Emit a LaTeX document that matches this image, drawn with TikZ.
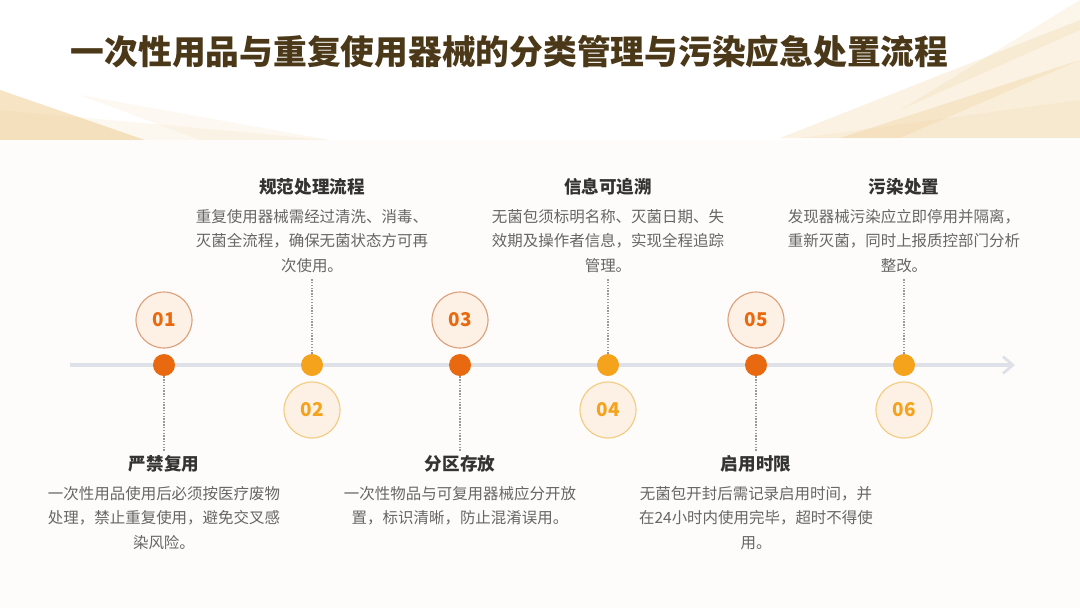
\documentclass[tikz,border=0pt]{standalone}
\usepackage{fontspec}
\newfontfamily\cjk{Noto Sans CJK SC}
\usetikzlibrary{arrows.meta}
\definecolor{deeporange}{HTML}{E8690F}
\definecolor{lightorange}{HTML}{F5A21C}
\definecolor{creamfill}{HTML}{FDF1E6}
\definecolor{oddrim}{HTML}{DDA07A}
\definecolor{evenrim}{HTML}{F2CC80}
\definecolor{titlebrown}{HTML}{4A3818}
\definecolor{headgray}{HTML}{333333}
\definecolor{bodygray}{HTML}{666666}
\definecolor{axisgray}{HTML}{DFE1E8}
\definecolor{gold}{HTML}{F0CF96}
\begin{document}
\begin{tikzpicture}[x=0.025cm, y=-0.025cm,
    dot/.style={circle, inner sep=0pt, minimum size=0.55cm},
    num/.style={circle, draw, line width=0.8pt, fill=creamfill, inner sep=0pt,
        minimum size=1.4cm, font=\cjk\bfseries\fontsize{13.5}{14}\selectfont},
    head/.style={font=\cjk\bfseries\fontsize{12.5}{14}\selectfont, text=headgray},
    body/.style={align=center, font=\cjk\fontsize{11}{17.7}\selectfont, text=bodygray},
    link/.style={densely dotted, line width=1pt, draw=gray!80}
]

    % background
    \fill[white!60!creamfill!30] (0,0) rectangle (1080,608);
    \fill[white] (0,0) rectangle (1080,140);
    \fill[gold, opacity=0.55] (0,90) -- (145,140) -- (0,140) -- cycle;
    \fill[gold, opacity=0.15] (0,110) -- (330,140) -- (0,140) -- cycle;
    \fill[gold, opacity=0.12] (80,95) -- (330,140) -- (200,140) -- cycle;
    \fill[gold, opacity=0.25] (780,138) -- (1080,20) -- (1080,60) -- (900,138) -- cycle;
    \fill[gold, opacity=0.35] (840,138) -- (1080,60) -- (1080,138) -- cycle;
    \fill[gold, opacity=0.2] (900,110) -- (1080,0) -- (1080,30) -- cycle;
    \fill[gold, opacity=0.15] (800,138) -- (1080,100) -- (1080,138) -- cycle;
    \fill[creamfill!20] (0,140) rectangle (1080,608);

    % title
    \node[anchor=west, text=titlebrown, font=\cjk\bfseries\fontsize{24}{28}\selectfont]
        (title) at (66,52) {一次性用品与重复使用器械的分类管理与污染应急处置流程};

    % timeline
    \coordinate (start) at (70,365);
    \coordinate (end) at (1015,365);
    \draw[axisgray, line width=2.2pt, -{Straight Barb[length=7pt, width=12pt, line width=2pt]}]
        (start) -- (end);

    % dots on the line
    \node[dot, fill=deeporange] (d1) at (164,365) {};
    \node[dot, fill=lightorange] (d2) at (312,365) {};
    \node[dot, fill=deeporange] (d3) at (460,365) {};
    \node[dot, fill=lightorange] (d4) at (608,365) {};
    \node[dot, fill=deeporange] (d5) at (756,365) {};
    \node[dot, fill=lightorange] (d6) at (904,365) {};

    % number circles
    \node[num, draw=oddrim, text=deeporange] (n1) at (164,320) {01};
    \node[num, draw=evenrim, text=lightorange] (n2) at (312,410) {02};
    \node[num, draw=oddrim, text=deeporange] (n3) at (460,320) {03};
    \node[num, draw=evenrim, text=lightorange] (n4) at (608,410) {04};
    \node[num, draw=oddrim, text=deeporange] (n5) at (756,320) {05};
    \node[num, draw=evenrim, text=lightorange] (n6) at (904,410) {06};

    % texts below the line
    \node[head] (t1) at (164,464) {严禁复用};
    \node[body, anchor=north] (p1) at (164,481) {一次性用品使用后必须按医疗废物\\处理，禁止重复使用，避免交叉感\\染风险。};
    \node[head] (t3) at (460,464) {分区存放};
    \node[body, anchor=north] (p3) at (460,481) {一次性物品与可复用器械应分开放\\置，标识清晰，防止混淆误用。};
    \node[head] (t5) at (756,464) {启用时限};
    \node[body, anchor=north] (p5) at (756,481) {无菌包开封后需记录启用时间，并\\在24小时内使用完毕，超时不得使\\用。};

    % texts above the line
    \node[head] (t2) at (312,187) {规范处理流程};
    \node[body, anchor=north] (p2) at (312,204) {重复使用器械需经过清洗、消毒、\\灭菌全流程，确保无菌状态方可再\\次使用。};
    \node[head] (t4) at (608,187) {信息可追溯};
    \node[body, anchor=north] (p4) at (608,204) {无菌包须标明名称、灭菌日期、失\\效期及操作者信息，实现全程追踪\\管理。};
    \node[head] (t6) at (904,187) {污染处置};
    \node[body, anchor=north] (p6) at (904,204) {发现器械污染应立即停用并隔离，\\重新灭菌，同时上报质控部门分析\\整改。};

    % dotted connectors
    \draw[link] (d1) -- (t1);
    \draw[link] (d3) -- (t3);
    \draw[link] (d5) -- (t5);
    \draw[link] (d2) -- (p2);
    \draw[link] (d4) -- (p4);
    \draw[link] (d6) -- (p6);

    \useasboundingbox (0,0) rectangle (1080,608);

\end{tikzpicture}
\end{document}
